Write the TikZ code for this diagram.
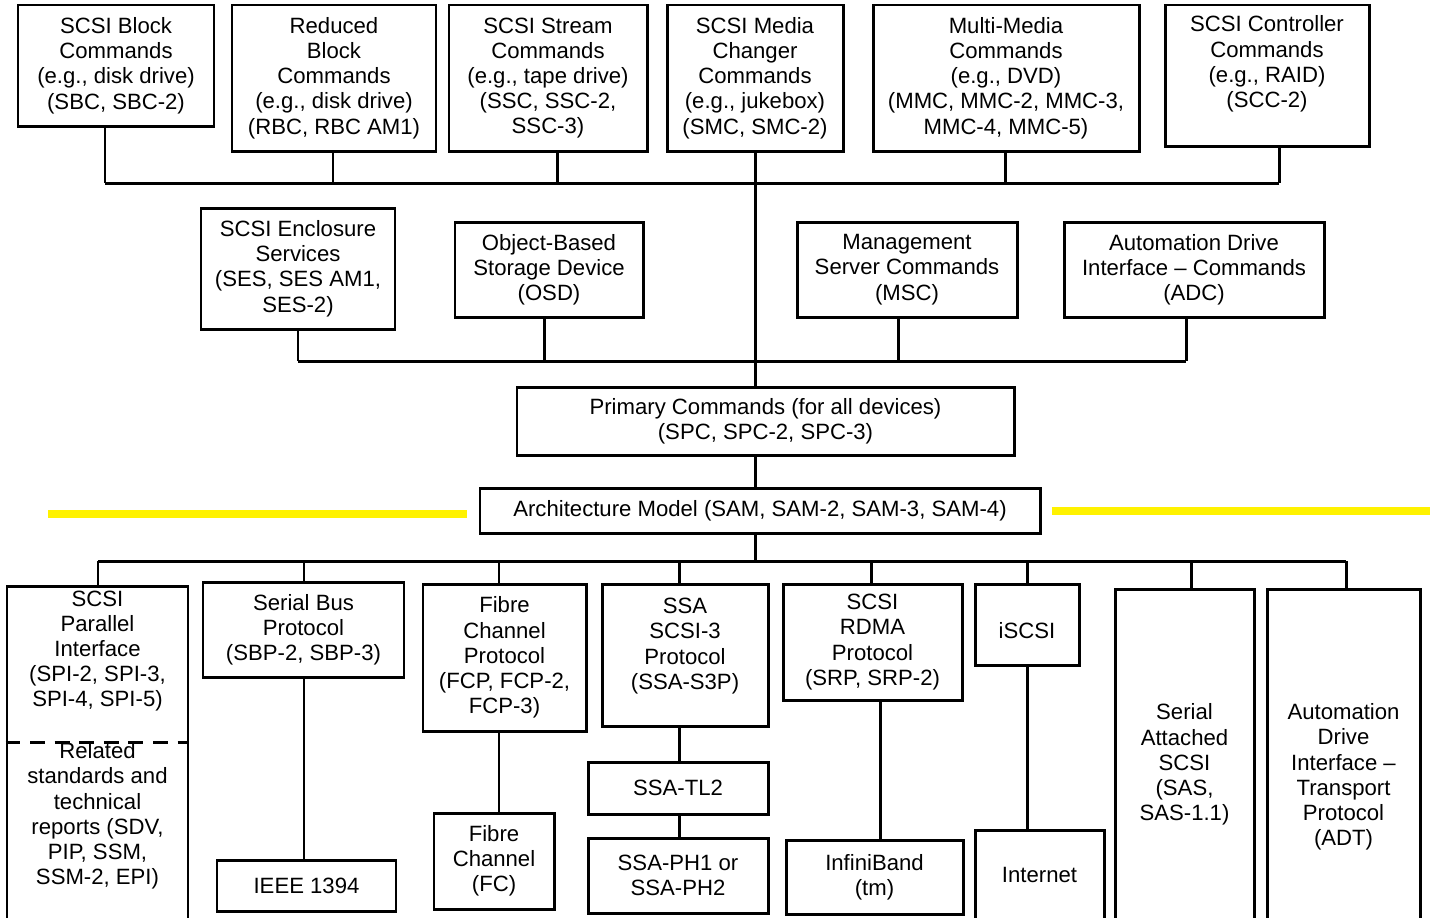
\documentclass[tikz,border=0pt]{standalone}
\usepackage{fontspec}
\setmainfont{Liberation Sans}
\usetikzlibrary{calc}
\newcommand\dfont{\fontsize{12.6}{14.35}\selectfont}
\tikzset{
  bx/.style 2 args={draw, line width=1.7pt, minimum width=#1*0.02cm, minimum height=#2*0.02cm, inner sep=0pt, align=center, font=\dfont},
  txt/.style={align=center, inner sep=0pt, font=\dfont},
  wire/.style={line width=1.7pt},
  hl/.style={line width=4.5pt, draw=yellow},
  sep/.style={line width=1.7pt, dash pattern=on 8.5pt off 5.5pt}
}
\begin{document}
\begin{tikzpicture}[x=0.02cm,y=-0.02cm]
\useasboundingbox (0,0) rectangle (1430,917);
\clip (0,0) rectangle (1430,917);
\fill[white] (0,0) rectangle (1430,917);

% yellow marker lines
\coordinate (yl1) at (48,514);
\coordinate (yl2) at (467,514);
\coordinate (yr1) at (1052,511);
\coordinate (yr2) at (1430,511);
\draw[hl] (yl1) -- (yl2);
\draw[hl] (yr1) -- (yr2);

% top row
\node[bx={196}{121}] (sbc) at (116,65.5) {SCSI Block\\Commands\\(e.g., disk drive)\\(SBC, SBC-2)};
\node[bx={204}{146}] (rbc) at (334,78) {Reduced\\Block\\Commands\\(e.g., disk drive)\\(RBC, RBC AM1)};
\node[bx={198}{146}] (ssc) at (548,78) {SCSI Stream\\Commands\\(e.g., tape drive)\\(SSC, SSC-2,\\SSC-3)};
\node[bx={176}{146}] (smc) at (755,78) {SCSI Media\\Changer\\Commands\\(e.g., jukebox)\\(SMC, SMC-2)};
\node[bx={266}{146}] (mmc) at (1006,78) {Multi-Media\\Commands\\(e.g., DVD)\\(MMC, MMC-2, MMC-3,\\MMC-4, MMC-5)};
\node[bx={204}{141}] (scc) at (1267,75.5) {};
\node[txt] (scct) at (1267,64) {SCSI Controller\\Commands\\(e.g., RAID)\\(SCC-2)};

% second row
\node[bx={194}{121}] (ses) at (298,268.5) {SCSI Enclosure\\Services\\(SES, SES AM1,\\SES-2)};
\node[bx={188}{95}] (osd) at (549,269.5) {Object-Based\\Storage Device\\(OSD)};
\node[bx={220}{95}] (msc) at (907,269.5) {Management\\Server Commands\\(MSC)};
\node[bx={260}{95}] (adc) at (1194,269.5) {Automation Drive\\Interface – Commands\\(ADC)};

% core
\node[bx={497}{68}] (prim) at (765.5,421) {Primary Commands (for all devices)\\(SPC, SPC-2, SPC-3)};
\node[bx={560}{45}] (arch) at (760,510.5) {Architecture Model (SAM, SAM-2, SAM-3, SAM-4)};

% bottom row
\node[bx={181}{344}] (spi) at (97.5,758) {};
\node[txt] (spit) at (97.5,651) {SCSI\\Parallel\\Interface\\(SPI-2, SPI-3,\\SPI-4, SPI-5)};
\node[txt] (relt) at (97.5,816) {Related\\standards and\\technical\\reports (SDV,\\PIP, SSM,\\SSM-2, EPI)};
\draw[sep] (spi.west |- 0,742) -- (spi.east |- 0,742);

\node[bx={201}{95}] (sbp) at (303.5,629.5) {Serial Bus\\Protocol\\(SBP-2, SBP-3)};
\node[bx={179}{51}] (ieee) at (306.5,885.5) {IEEE 1394};
\node[bx={163}{147}] (fcp) at (504.5,657.5) {Fibre\\Channel\\Protocol\\(FCP, FCP-2,\\FCP-3)};
\node[bx={120}{96}] (fc) at (494,861) {Fibre\\Channel\\(FC)};
\node[bx={166}{142}] (ssa) at (685,655) {};
\node[txt] (ssat) at (685,646) {SSA\\SCSI-3\\Protocol\\(SSA-S3P)};
\node[bx={180}{52}] (tl2) at (678,788) {SSA-TL2};
\node[bx={180}{75}] (ph) at (678,875.5) {SSA-PH1 or\\SSA-PH2};
\node[bx={179}{116}] (srp) at (872.5,642) {SCSI\\RDMA\\Protocol\\(SRP, SRP-2)};
\node[bx={177}{74}] (ib) at (874.5,877) {InfiniBand\\(tm)};
\node[bx={104}{81}] (iscsi) at (1027,624.5) {};
\node[txt] (iscsit) at (1027,631) {iSCSI};
\node[bx={129}{90}] (inet) at (1039.5,875) {Internet};
\node[bx={139}{351}] (sas) at (1184.5,764.5) {Serial\\Attached\\SCSI\\(SAS,\\SAS-1.1)};
\node[bx={153}{376}] (adt) at (1343.5,777) {Automation\\Drive\\Interface –\\Transport\\Protocol\\(ADT)};

% buses
\coordinate (busT1) at (105,183);
\coordinate (busT2) at (1279,183);
\coordinate (busM1) at (298,361);
\coordinate (busM2) at (1186,361);
\coordinate (busB1) at (98,561);
\coordinate (busB2) at (1346,561);
\draw[wire] (busT1) -- (busT2);
\draw[wire] (busM1) -- (busM2);
\draw[wire] (busB1) -- (busB2);

% top drops
\draw[wire] (sbc.south -| 105,0) -- (busT1 -| 105,0);
\draw[wire] (rbc.south -| 333,0) -- (busT1 -| 333,0);
\draw[wire] (ssc.south -| 557,0) -- (busT1 -| 557,0);
\draw[wire] (mmc.south -| 1005,0) -- (busT1 -| 1005,0);
\draw[wire] (scc.south -| 1279,0) -- (busT2);
% trunk
\draw[wire] (smc.south -| 755,0) -- (prim.north -| 755,0);
\draw[wire] (prim.south -| 755,0) -- (arch.north -| 755,0);
\draw[wire] (arch.south -| 755,0) -- (busB1 -| 755,0);
% middle drops
\draw[wire] (ses.south -| 298,0) -- (busM1);
\draw[wire] (osd.south -| 544,0) -- (busM1 -| 544,0);
\draw[wire] (msc.south -| 898,0) -- (busM1 -| 898,0);
\draw[wire] (adc.south -| 1186,0) -- (busM2);
% bottom drops
\draw[wire] (busB1) -- (spi.north -| busB1);
\draw[wire] (busB1 -| 304,0) -- (sbp.north -| 304,0);
\draw[wire] (busB1 -| 499,0) -- (fcp.north -| 499,0);
\draw[wire] (busB1 -| 679,0) -- (ssa.north -| 679,0);
\draw[wire] (busB1 -| 871,0) -- (srp.north -| 871,0);
\draw[wire] (busB1 -| 1027,0) -- (iscsi.north -| 1027,0);
\draw[wire] (busB1 -| 1191,0) -- (sas.north -| 1191,0);
\draw[wire] (busB2) -- (adt.north -| busB2);
% lower links
\draw[wire] (sbp.south -| 304,0) -- (ieee.north -| 304,0);
\draw[wire] (fcp.south -| 499,0) -- (fc.north -| 499,0);
\draw[wire] (ssa.south -| 679,0) -- (tl2.north -| 679,0);
\draw[wire] (tl2.south -| 679,0) -- (ph.north -| 679,0);
\draw[wire] (srp.south -| 880,0) -- (ib.north -| 880,0);
\draw[wire] (iscsi.south -| 1027,0) -- (inet.north -| 1027,0);
\end{tikzpicture}
\end{document}
